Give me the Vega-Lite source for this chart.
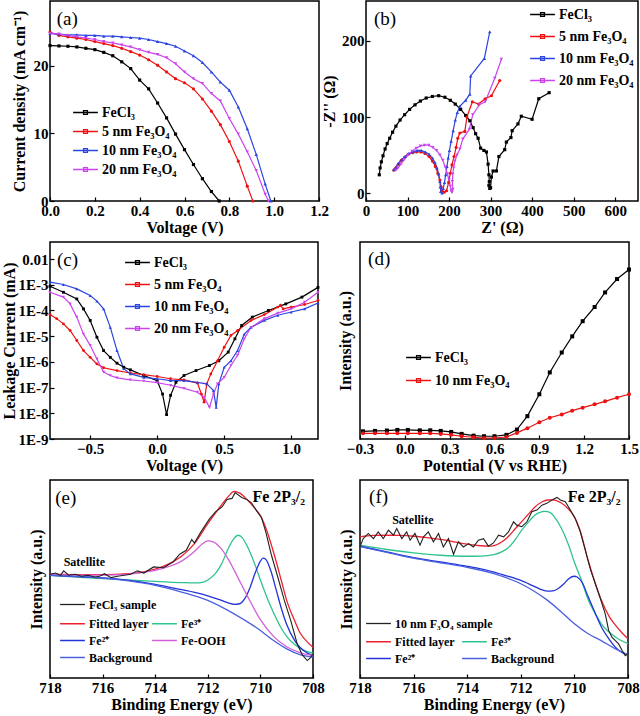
{
"$schema": "https://vega.github.io/schema/vega-lite/v6.json",
"background": "white",
"padding": {"left": 0, "top": 0, "right": 1, "bottom": 1},
"config": {
  "font": "Liberation Serif",
  "view": {"stroke": "#000", "strokeWidth": 1.5},
  "axis": {"domain": false, "grid": false, "tickSize": -4, "tickColor": "#000", "tickWidth": 1.2, "labelFont": "Liberation Serif", "labelFontSize": 15, "labelFontWeight": "bold", "labelColor": "#000", "labelPadding": 6, "titleFont": "Liberation Serif", "titleFontSize": 16, "titleFontWeight": "bold", "titleColor": "#000", "titlePadding": 1, "labelOverlap": false, "labelFlush": false},
  "legend": {"labelFont": "Liberation Serif", "labelFontWeight": "bold", "labelFontSize": 14, "labelColor": "#000", "padding": 0},
  "text": {"font": "Liberation Serif", "color": "#000"}
},
"datasets": {
"a": [
{"s":"FeCl₃","x":0,"y":23.0},{"s":"FeCl₃","x":0.04,"y":22.95},{"s":"FeCl₃","x":0.08,"y":22.9},{"s":"FeCl₃","x":0.12,"y":22.8},{"s":"FeCl₃","x":0.16,"y":22.6},{"s":"FeCl₃","x":0.2,"y":22.4},{"s":"FeCl₃","x":0.24,"y":22.0},{"s":"FeCl₃","x":0.28,"y":21.5},{"s":"FeCl₃","x":0.32,"y":20.6},{"s":"FeCl₃","x":0.36,"y":19.6},{"s":"FeCl₃","x":0.4,"y":17.9},{"s":"FeCl₃","x":0.44,"y":16.6},{"s":"FeCl₃","x":0.48,"y":14.5},{"s":"FeCl₃","x":0.52,"y":12.3},{"s":"FeCl₃","x":0.56,"y":9.9},{"s":"FeCl₃","x":0.6,"y":7.6},{"s":"FeCl₃","x":0.64,"y":5.4},{"s":"FeCl₃","x":0.68,"y":3.3},{"s":"FeCl₃","x":0.72,"y":1.4},{"s":"FeCl₃","x":0.755,"y":0},
{"s":"5 nm Fe₃O₄","x":0,"y":25.0},{"s":"5 nm Fe₃O₄","x":0.04,"y":24.5},{"s":"5 nm Fe₃O₄","x":0.08,"y":24.3},{"s":"5 nm Fe₃O₄","x":0.12,"y":24.1},{"s":"5 nm Fe₃O₄","x":0.16,"y":23.9},{"s":"5 nm Fe₃O₄","x":0.2,"y":23.6},{"s":"5 nm Fe₃O₄","x":0.24,"y":23.3},{"s":"5 nm Fe₃O₄","x":0.28,"y":23.0},{"s":"5 nm Fe₃O₄","x":0.32,"y":22.6},{"s":"5 nm Fe₃O₄","x":0.36,"y":22.1},{"s":"5 nm Fe₃O₄","x":0.4,"y":21.6},{"s":"5 nm Fe₃O₄","x":0.44,"y":20.9},{"s":"5 nm Fe₃O₄","x":0.48,"y":20.1},{"s":"5 nm Fe₃O₄","x":0.52,"y":19.1},{"s":"5 nm Fe₃O₄","x":0.56,"y":18.1},{"s":"5 nm Fe₃O₄","x":0.6,"y":17.5},{"s":"5 nm Fe₃O₄","x":0.64,"y":16.6},{"s":"5 nm Fe₃O₄","x":0.68,"y":15.1},{"s":"5 nm Fe₃O₄","x":0.72,"y":13.3},{"s":"5 nm Fe₃O₄","x":0.76,"y":11.3},{"s":"5 nm Fe₃O₄","x":0.8,"y":8.8},{"s":"5 nm Fe₃O₄","x":0.84,"y":5.9},{"s":"5 nm Fe₃O₄","x":0.88,"y":2.2},{"s":"5 nm Fe₃O₄","x":0.905,"y":0},
{"s":"10 nm Fe₃O₄","x":0,"y":24.8},{"s":"10 nm Fe₃O₄","x":0.04,"y":24.7},{"s":"10 nm Fe₃O₄","x":0.08,"y":24.6},{"s":"10 nm Fe₃O₄","x":0.12,"y":24.6},{"s":"10 nm Fe₃O₄","x":0.16,"y":24.5},{"s":"10 nm Fe₃O₄","x":0.2,"y":24.5},{"s":"10 nm Fe₃O₄","x":0.24,"y":24.4},{"s":"10 nm Fe₃O₄","x":0.28,"y":24.4},{"s":"10 nm Fe₃O₄","x":0.32,"y":24.3},{"s":"10 nm Fe₃O₄","x":0.36,"y":24.2},{"s":"10 nm Fe₃O₄","x":0.4,"y":24.1},{"s":"10 nm Fe₃O₄","x":0.44,"y":23.9},{"s":"10 nm Fe₃O₄","x":0.48,"y":23.6},{"s":"10 nm Fe₃O₄","x":0.52,"y":23.3},{"s":"10 nm Fe₃O₄","x":0.56,"y":22.9},{"s":"10 nm Fe₃O₄","x":0.6,"y":22.2},{"s":"10 nm Fe₃O₄","x":0.64,"y":21.5},{"s":"10 nm Fe₃O₄","x":0.68,"y":20.5},{"s":"10 nm Fe₃O₄","x":0.72,"y":19.1},{"s":"10 nm Fe₃O₄","x":0.76,"y":17.6},{"s":"10 nm Fe₃O₄","x":0.8,"y":16.4},{"s":"10 nm Fe₃O₄","x":0.84,"y":13.9},{"s":"10 nm Fe₃O₄","x":0.88,"y":10.7},{"s":"10 nm Fe₃O₄","x":0.92,"y":6.9},{"s":"10 nm Fe₃O₄","x":0.96,"y":2.5},{"s":"10 nm Fe₃O₄","x":0.985,"y":0},
{"s":"20 nm Fe₃O₄","x":0,"y":24.8},{"s":"20 nm Fe₃O₄","x":0.04,"y":24.7},{"s":"20 nm Fe₃O₄","x":0.08,"y":24.5},{"s":"20 nm Fe₃O₄","x":0.12,"y":24.3},{"s":"20 nm Fe₃O₄","x":0.16,"y":24.1},{"s":"20 nm Fe₃O₄","x":0.2,"y":23.9},{"s":"20 nm Fe₃O₄","x":0.24,"y":23.6},{"s":"20 nm Fe₃O₄","x":0.28,"y":23.4},{"s":"20 nm Fe₃O₄","x":0.32,"y":23.1},{"s":"20 nm Fe₃O₄","x":0.36,"y":22.8},{"s":"20 nm Fe₃O₄","x":0.4,"y":22.4},{"s":"20 nm Fe₃O₄","x":0.44,"y":22.0},{"s":"20 nm Fe₃O₄","x":0.48,"y":21.7},{"s":"20 nm Fe₃O₄","x":0.52,"y":21.2},{"s":"20 nm Fe₃O₄","x":0.56,"y":20.3},{"s":"20 nm Fe₃O₄","x":0.6,"y":19.1},{"s":"20 nm Fe₃O₄","x":0.64,"y":18.1},{"s":"20 nm Fe₃O₄","x":0.68,"y":17.4},{"s":"20 nm Fe₃O₄","x":0.72,"y":15.9},{"s":"20 nm Fe₃O₄","x":0.76,"y":14.8},{"s":"20 nm Fe₃O₄","x":0.8,"y":12.2},{"s":"20 nm Fe₃O₄","x":0.84,"y":9.9},{"s":"20 nm Fe₃O₄","x":0.88,"y":7.3},{"s":"20 nm Fe₃O₄","x":0.92,"y":4.5},{"s":"20 nm Fe₃O₄","x":0.96,"y":1.0},{"s":"20 nm Fe₃O₄","x":0.975,"y":0}
],
"b": [
{"s":"FeCl₃","x":32,"y":24},{"s":"FeCl₃","x":34,"y":33},{"s":"FeCl₃","x":37,"y":41},{"s":"FeCl₃","x":41,"y":49},{"s":"FeCl₃","x":46,"y":58},{"s":"FeCl₃","x":51,"y":65},{"s":"FeCl₃","x":57,"y":72},{"s":"FeCl₃","x":64,"y":80},{"s":"FeCl₃","x":72,"y":88},{"s":"FeCl₃","x":82,"y":96},{"s":"FeCl₃","x":93,"y":103},{"s":"FeCl₃","x":105,"y":110},{"s":"FeCl₃","x":118,"y":116},{"s":"FeCl₃","x":131,"y":121},{"s":"FeCl₃","x":145,"y":125},{"s":"FeCl₃","x":160,"y":127},{"s":"FeCl₃","x":175,"y":128},{"s":"FeCl₃","x":190,"y":126},{"s":"FeCl₃","x":203,"y":122},{"s":"FeCl₃","x":215,"y":117},{"s":"FeCl₃","x":228,"y":110},{"s":"FeCl₃","x":240,"y":102},{"s":"FeCl₃","x":250,"y":95},{"s":"FeCl₃","x":258,"y":86},{"s":"FeCl₃","x":264,"y":78},{"s":"FeCl₃","x":270,"y":72},{"s":"FeCl₃","x":276,"y":59},{"s":"FeCl₃","x":284,"y":56},{"s":"FeCl₃","x":290,"y":54},{"s":"FeCl₃","x":294,"y":38},{"s":"FeCl₃","x":296,"y":24},{"s":"FeCl₃","x":297,"y":15},{"s":"FeCl₃","x":296,"y":10},{"s":"FeCl₃","x":298,"y":6},{"s":"FeCl₃","x":300,"y":7},{"s":"FeCl₃","x":302,"y":21},{"s":"FeCl₃","x":306,"y":29},{"s":"FeCl₃","x":314,"y":29},{"s":"FeCl₃","x":320,"y":48},{"s":"FeCl₃","x":334,"y":57},{"s":"FeCl₃","x":338,"y":67},{"s":"FeCl₃","x":349,"y":73},{"s":"FeCl₃","x":352,"y":82},{"s":"FeCl₃","x":366,"y":91},{"s":"FeCl₃","x":374,"y":101},{"s":"FeCl₃","x":400,"y":97},{"s":"FeCl₃","x":416,"y":124},{"s":"FeCl₃","x":441,"y":132},
{"s":"5 nm Fe₃O₄","x":67,"y":30},{"s":"5 nm Fe₃O₄","x":72,"y":33},{"s":"5 nm Fe₃O₄","x":78,"y":38},{"s":"5 nm Fe₃O₄","x":85,"y":43},{"s":"5 nm Fe₃O₄","x":93,"y":47},{"s":"5 nm Fe₃O₄","x":102,"y":51},{"s":"5 nm Fe₃O₄","x":112,"y":53},{"s":"5 nm Fe₃O₄","x":122,"y":54},{"s":"5 nm Fe₃O₄","x":132,"y":54},{"s":"5 nm Fe₃O₄","x":142,"y":52},{"s":"5 nm Fe₃O₄","x":152,"y":48},{"s":"5 nm Fe₃O₄","x":160,"y":42},{"s":"5 nm Fe₃O₄","x":167,"y":35},{"s":"5 nm Fe₃O₄","x":173,"y":26},{"s":"5 nm Fe₃O₄","x":178,"y":17},{"s":"5 nm Fe₃O₄","x":181,"y":8},{"s":"5 nm Fe₃O₄","x":183,"y":3},{"s":"5 nm Fe₃O₄","x":188,"y":1},{"s":"5 nm Fe₃O₄","x":194,"y":3},{"s":"5 nm Fe₃O₄","x":199,"y":14},{"s":"5 nm Fe₃O₄","x":203,"y":26},{"s":"5 nm Fe₃O₄","x":207,"y":37},{"s":"5 nm Fe₃O₄","x":212,"y":48},{"s":"5 nm Fe₃O₄","x":217,"y":60},{"s":"5 nm Fe₃O₄","x":221,"y":72},{"s":"5 nm Fe₃O₄","x":226,"y":79},{"s":"5 nm Fe₃O₄","x":238,"y":81},{"s":"5 nm Fe₃O₄","x":243,"y":100},{"s":"5 nm Fe₃O₄","x":256,"y":120},{"s":"5 nm Fe₃O₄","x":271,"y":117},{"s":"5 nm Fe₃O₄","x":287,"y":124},{"s":"5 nm Fe₃O₄","x":302,"y":128},{"s":"5 nm Fe₃O₄","x":322,"y":148},
{"s":"10 nm Fe₃O₄","x":67,"y":31},{"s":"10 nm Fe₃O₄","x":72,"y":34},{"s":"10 nm Fe₃O₄","x":78,"y":39},{"s":"10 nm Fe₃O₄","x":86,"y":44},{"s":"10 nm Fe₃O₄","x":94,"y":48},{"s":"10 nm Fe₃O₄","x":103,"y":52},{"s":"10 nm Fe₃O₄","x":113,"y":54},{"s":"10 nm Fe₃O₄","x":123,"y":56},{"s":"10 nm Fe₃O₄","x":133,"y":56},{"s":"10 nm Fe₃O₄","x":143,"y":54},{"s":"10 nm Fe₃O₄","x":152,"y":51},{"s":"10 nm Fe₃O₄","x":160,"y":46},{"s":"10 nm Fe₃O₄","x":166,"y":40},{"s":"10 nm Fe₃O₄","x":171,"y":33},{"s":"10 nm Fe₃O₄","x":175,"y":25},{"s":"10 nm Fe₃O₄","x":178,"y":15},{"s":"10 nm Fe₃O₄","x":179,"y":8},{"s":"10 nm Fe₃O₄","x":180,"y":2},{"s":"10 nm Fe₃O₄","x":183,"y":0},{"s":"10 nm Fe₃O₄","x":186,"y":6},{"s":"10 nm Fe₃O₄","x":189,"y":14},{"s":"10 nm Fe₃O₄","x":192,"y":24},{"s":"10 nm Fe₃O₄","x":195,"y":35},{"s":"10 nm Fe₃O₄","x":198,"y":46},{"s":"10 nm Fe₃O₄","x":201,"y":56},{"s":"10 nm Fe₃O₄","x":205,"y":68},{"s":"10 nm Fe₃O₄","x":210,"y":82},{"s":"10 nm Fe₃O₄","x":215,"y":96},{"s":"10 nm Fe₃O₄","x":220,"y":106},{"s":"10 nm Fe₃O₄","x":226,"y":114},{"s":"10 nm Fe₃O₄","x":240,"y":122},{"s":"10 nm Fe₃O₄","x":250,"y":130},{"s":"10 nm Fe₃O₄","x":252,"y":154},{"s":"10 nm Fe₃O₄","x":285,"y":177},{"s":"10 nm Fe₃O₄","x":298,"y":212},
{"s":"20 nm Fe₃O₄","x":72,"y":30},{"s":"20 nm Fe₃O₄","x":77,"y":33},{"s":"20 nm Fe₃O₄","x":84,"y":38},{"s":"20 nm Fe₃O₄","x":92,"y":44},{"s":"20 nm Fe₃O₄","x":101,"y":50},{"s":"20 nm Fe₃O₄","x":111,"y":55},{"s":"20 nm Fe₃O₄","x":121,"y":59},{"s":"20 nm Fe₃O₄","x":131,"y":62},{"s":"20 nm Fe₃O₄","x":141,"y":63},{"s":"20 nm Fe₃O₄","x":151,"y":63},{"s":"20 nm Fe₃O₄","x":161,"y":60},{"s":"20 nm Fe₃O₄","x":170,"y":56},{"s":"20 nm Fe₃O₄","x":178,"y":50},{"s":"20 nm Fe₃O₄","x":185,"y":43},{"s":"20 nm Fe₃O₄","x":191,"y":34},{"s":"20 nm Fe₃O₄","x":196,"y":25},{"s":"20 nm Fe₃O₄","x":200,"y":17},{"s":"20 nm Fe₃O₄","x":203,"y":9},{"s":"20 nm Fe₃O₄","x":205,"y":3},{"s":"20 nm Fe₃O₄","x":207,"y":1},{"s":"20 nm Fe₃O₄","x":209,"y":5},{"s":"20 nm Fe₃O₄","x":208,"y":15},{"s":"20 nm Fe₃O₄","x":209,"y":25},{"s":"20 nm Fe₃O₄","x":211,"y":33},{"s":"20 nm Fe₃O₄","x":214,"y":42},{"s":"20 nm Fe₃O₄","x":219,"y":50},{"s":"20 nm Fe₃O₄","x":226,"y":58},{"s":"20 nm Fe₃O₄","x":233,"y":71},{"s":"20 nm Fe₃O₄","x":249,"y":84},{"s":"20 nm Fe₃O₄","x":257,"y":103},{"s":"20 nm Fe₃O₄","x":273,"y":116},{"s":"20 nm Fe₃O₄","x":287,"y":120},{"s":"20 nm Fe₃O₄","x":310,"y":151},{"s":"20 nm Fe₃O₄","x":326,"y":176}
],
"c": [
{"s":"FeCl₃","x":-0.8,"y":8.7e-4},{"s":"FeCl₃","x":-0.7,"y":5.1e-4},{"s":"FeCl₃","x":-0.6,"y":2.8e-4},{"s":"FeCl₃","x":-0.55,"y":1.15e-4},{"s":"FeCl₃","x":-0.5,"y":4.1e-5},{"s":"FeCl₃","x":-0.45,"y":9.1e-6},{"s":"FeCl₃","x":-0.4,"y":2.75e-6},{"s":"FeCl₃","x":-0.35,"y":1.5e-6},{"s":"FeCl₃","x":-0.3,"y":8.9e-7},{"s":"FeCl₃","x":-0.25,"y":6.2e-7},{"s":"FeCl₃","x":-0.2,"y":4.9e-7},{"s":"FeCl₃","x":-0.1,"y":2.95e-7},{"s":"FeCl₃","x":0.0,"y":1.86e-7},{"s":"FeCl₃","x":0.04,"y":5.6e-8},{"s":"FeCl₃","x":0.07,"y":8.9e-9},{"s":"FeCl₃","x":0.1,"y":5e-8},{"s":"FeCl₃","x":0.14,"y":1.6e-7},{"s":"FeCl₃","x":0.2,"y":2.95e-7},{"s":"FeCl₃","x":0.29,"y":4.6e-7},{"s":"FeCl₃","x":0.39,"y":7.2e-7},{"s":"FeCl₃","x":0.46,"y":1.1e-6},{"s":"FeCl₃","x":0.53,"y":2.4e-6},{"s":"FeCl₃","x":0.58,"y":7.9e-6},{"s":"FeCl₃","x":0.63,"y":2.6e-5},{"s":"FeCl₃","x":0.71,"y":5.5e-5},{"s":"FeCl₃","x":0.83,"y":1e-4},{"s":"FeCl₃","x":0.96,"y":1.8e-4},{"s":"FeCl₃","x":1.08,"y":3.3e-4},{"s":"FeCl₃","x":1.2,"y":7.9e-4},
{"s":"5 nm Fe₃O₄","x":-0.8,"y":6.9e-5},{"s":"5 nm Fe₃O₄","x":-0.75,"y":4.8e-5},{"s":"5 nm Fe₃O₄","x":-0.7,"y":3.0e-5},{"s":"5 nm Fe₃O₄","x":-0.65,"y":1.66e-5},{"s":"5 nm Fe₃O₄","x":-0.6,"y":6.8e-6},{"s":"5 nm Fe₃O₄","x":-0.55,"y":2.75e-6},{"s":"5 nm Fe₃O₄","x":-0.5,"y":1.5e-6},{"s":"5 nm Fe₃O₄","x":-0.45,"y":8.3e-7},{"s":"5 nm Fe₃O₄","x":-0.4,"y":5.9e-7},{"s":"5 nm Fe₃O₄","x":-0.3,"y":4.6e-7},{"s":"5 nm Fe₃O₄","x":-0.2,"y":3.7e-7},{"s":"5 nm Fe₃O₄","x":-0.1,"y":3.2e-7},{"s":"5 nm Fe₃O₄","x":0.0,"y":2.7e-7},{"s":"5 nm Fe₃O₄","x":0.1,"y":2.2e-7},{"s":"5 nm Fe₃O₄","x":0.2,"y":2.0e-7},{"s":"5 nm Fe₃O₄","x":0.3,"y":1.5e-7},{"s":"5 nm Fe₃O₄","x":0.33,"y":5.6e-8},{"s":"5 nm Fe₃O₄","x":0.35,"y":2.7e-8},{"s":"5 nm Fe₃O₄","x":0.37,"y":1.4e-7},{"s":"5 nm Fe₃O₄","x":0.4,"y":3.4e-7},{"s":"5 nm Fe₃O₄","x":0.45,"y":1.1e-6},{"s":"5 nm Fe₃O₄","x":0.5,"y":3.7e-6},{"s":"5 nm Fe₃O₄","x":0.55,"y":1.07e-5},{"s":"5 nm Fe₃O₄","x":0.6,"y":1.66e-5},{"s":"5 nm Fe₃O₄","x":0.7,"y":4.1e-5},{"s":"5 nm Fe₃O₄","x":0.8,"y":6.9e-5},{"s":"5 nm Fe₃O₄","x":0.9,"y":1.35e-4},{"s":"5 nm Fe₃O₄","x":0.92,"y":1.6e-4},{"s":"5 nm Fe₃O₄","x":0.94,"y":1.15e-4},{"s":"5 nm Fe₃O₄","x":1.0,"y":1.35e-4},{"s":"5 nm Fe₃O₄","x":1.1,"y":1.7e-4},{"s":"5 nm Fe₃O₄","x":1.2,"y":2.45e-4},
{"s":"10 nm Fe₃O₄","x":-0.8,"y":1.26e-3},{"s":"10 nm Fe₃O₄","x":-0.7,"y":1.02e-3},{"s":"10 nm Fe₃O₄","x":-0.6,"y":6.9e-4},{"s":"10 nm Fe₃O₄","x":-0.5,"y":3.8e-4},{"s":"10 nm Fe₃O₄","x":-0.45,"y":2.3e-4},{"s":"10 nm Fe₃O₄","x":-0.4,"y":1.15e-4},{"s":"10 nm Fe₃O₄","x":-0.35,"y":2.2e-5},{"s":"10 nm Fe₃O₄","x":-0.3,"y":2.75e-6},{"s":"10 nm Fe₃O₄","x":-0.25,"y":5.4e-7},{"s":"10 nm Fe₃O₄","x":-0.2,"y":3.4e-7},{"s":"10 nm Fe₃O₄","x":-0.1,"y":2.5e-7},{"s":"10 nm Fe₃O₄","x":0.0,"y":2.2e-7},{"s":"10 nm Fe₃O₄","x":0.1,"y":1.86e-7},{"s":"10 nm Fe₃O₄","x":0.2,"y":1.86e-7},{"s":"10 nm Fe₃O₄","x":0.3,"y":1.6e-7},{"s":"10 nm Fe₃O₄","x":0.37,"y":1.4e-7},{"s":"10 nm Fe₃O₄","x":0.42,"y":7.6e-8},{"s":"10 nm Fe₃O₄","x":0.44,"y":1.7e-8},{"s":"10 nm Fe₃O₄","x":0.46,"y":1.4e-7},{"s":"10 nm Fe₃O₄","x":0.5,"y":6.2e-7},{"s":"10 nm Fe₃O₄","x":0.55,"y":1.1e-6},{"s":"10 nm Fe₃O₄","x":0.6,"y":2.75e-6},{"s":"10 nm Fe₃O₄","x":0.65,"y":1.2e-5},{"s":"10 nm Fe₃O₄","x":0.7,"y":2.2e-5},{"s":"10 nm Fe₃O₄","x":0.8,"y":4.1e-5},{"s":"10 nm Fe₃O₄","x":0.9,"y":6.5e-5},{"s":"10 nm Fe₃O₄","x":1.0,"y":8.7e-5},{"s":"10 nm Fe₃O₄","x":1.1,"y":1.15e-4},{"s":"10 nm Fe₃O₄","x":1.2,"y":1.95e-4},
{"s":"20 nm Fe₃O₄","x":-0.8,"y":5.1e-4},{"s":"20 nm Fe₃O₄","x":-0.7,"y":3.3e-4},{"s":"20 nm Fe₃O₄","x":-0.65,"y":1.8e-4},{"s":"20 nm Fe₃O₄","x":-0.6,"y":5.5e-5},{"s":"20 nm Fe₃O₄","x":-0.55,"y":1.2e-5},{"s":"20 nm Fe₃O₄","x":-0.5,"y":4.4e-6},{"s":"20 nm Fe₃O₄","x":-0.45,"y":1.3e-6},{"s":"20 nm Fe₃O₄","x":-0.4,"y":4e-7},{"s":"20 nm Fe₃O₄","x":-0.35,"y":2.95e-7},{"s":"20 nm Fe₃O₄","x":-0.3,"y":2.4e-7},{"s":"20 nm Fe₃O₄","x":-0.2,"y":2e-7},{"s":"20 nm Fe₃O₄","x":-0.1,"y":1.8e-7},{"s":"20 nm Fe₃O₄","x":0.0,"y":1.55e-7},{"s":"20 nm Fe₃O₄","x":0.1,"y":1.23e-7},{"s":"20 nm Fe₃O₄","x":0.2,"y":9.3e-8},{"s":"20 nm Fe₃O₄","x":0.3,"y":6.6e-8},{"s":"20 nm Fe₃O₄","x":0.35,"y":4.2e-8},{"s":"20 nm Fe₃O₄","x":0.39,"y":1.7e-8},{"s":"20 nm Fe₃O₄","x":0.42,"y":5.6e-8},{"s":"20 nm Fe₃O₄","x":0.45,"y":1.4e-7},{"s":"20 nm Fe₃O₄","x":0.5,"y":2.5e-7},{"s":"20 nm Fe₃O₄","x":0.55,"y":7.2e-7},{"s":"20 nm Fe₃O₄","x":0.6,"y":1.8e-6},{"s":"20 nm Fe₃O₄","x":0.65,"y":7.9e-6},{"s":"20 nm Fe₃O₄","x":0.7,"y":2.2e-5},{"s":"20 nm Fe₃O₄","x":0.8,"y":4.8e-5},{"s":"20 nm Fe₃O₄","x":0.9,"y":7.9e-5},{"s":"20 nm Fe₃O₄","x":1.0,"y":1.15e-4},{"s":"20 nm Fe₃O₄","x":1.1,"y":2.1e-4},{"s":"20 nm Fe₃O₄","x":1.2,"y":5.1e-4}
],
"d": [
{"s":"FeCl₃","x":-0.28,"y":3.9},{"s":"FeCl₃","x":-0.2,"y":4.1},{"s":"FeCl₃","x":-0.12,"y":4.3},{"s":"FeCl₃","x":-0.05,"y":4.6},{"s":"FeCl₃","x":0.02,"y":4.6},{"s":"FeCl₃","x":0.1,"y":4.4},{"s":"FeCl₃","x":0.17,"y":4.4},{"s":"FeCl₃","x":0.24,"y":4.1},{"s":"FeCl₃","x":0.31,"y":3.6},{"s":"FeCl₃","x":0.38,"y":2.6},{"s":"FeCl₃","x":0.46,"y":1.7},{"s":"FeCl₃","x":0.53,"y":1.4},{"s":"FeCl₃","x":0.6,"y":1.4},{"s":"FeCl₃","x":0.68,"y":2.1},{"s":"FeCl₃","x":0.75,"y":4.8},{"s":"FeCl₃","x":0.82,"y":11.6},{"s":"FeCl₃","x":0.9,"y":22.7},{"s":"FeCl₃","x":0.97,"y":33.8},{"s":"FeCl₃","x":1.05,"y":43.9},{"s":"FeCl₃","x":1.12,"y":52.1},{"s":"FeCl₃","x":1.19,"y":59.8},{"s":"FeCl₃","x":1.27,"y":67.0},{"s":"FeCl₃","x":1.34,"y":74.4},{"s":"FeCl₃","x":1.42,"y":81.2},{"s":"FeCl₃","x":1.5,"y":86.0},
{"s":"10 nm Fe₃O₄","x":-0.28,"y":2.9},{"s":"10 nm Fe₃O₄","x":-0.2,"y":2.9},{"s":"10 nm Fe₃O₄","x":-0.12,"y":2.9},{"s":"10 nm Fe₃O₄","x":-0.05,"y":2.9},{"s":"10 nm Fe₃O₄","x":0.02,"y":2.9},{"s":"10 nm Fe₃O₄","x":0.1,"y":2.9},{"s":"10 nm Fe₃O₄","x":0.17,"y":2.9},{"s":"10 nm Fe₃O₄","x":0.24,"y":2.6},{"s":"10 nm Fe₃O₄","x":0.31,"y":2.1},{"s":"10 nm Fe₃O₄","x":0.38,"y":1.4},{"s":"10 nm Fe₃O₄","x":0.46,"y":0.9},{"s":"10 nm Fe₃O₄","x":0.53,"y":0.5},{"s":"10 nm Fe₃O₄","x":0.6,"y":0.5},{"s":"10 nm Fe₃O₄","x":0.68,"y":1.0},{"s":"10 nm Fe₃O₄","x":0.75,"y":3.1},{"s":"10 nm Fe₃O₄","x":0.82,"y":5.5},{"s":"10 nm Fe₃O₄","x":0.9,"y":8.5},{"s":"10 nm Fe₃O₄","x":0.97,"y":10.8},{"s":"10 nm Fe₃O₄","x":1.05,"y":12.5},{"s":"10 nm Fe₃O₄","x":1.12,"y":14.4},{"s":"10 nm Fe₃O₄","x":1.19,"y":15.9},{"s":"10 nm Fe₃O₄","x":1.27,"y":17.6},{"s":"10 nm Fe₃O₄","x":1.34,"y":19.1},{"s":"10 nm Fe₃O₄","x":1.42,"y":21.0},{"s":"10 nm Fe₃O₄","x":1.5,"y":22.7}
],
"es": [
{"s":"FeCl₃ sample","x":718.0,"y":52.4},{"s":"FeCl₃ sample","x":717.79,"y":53.0},{"s":"FeCl₃ sample","x":717.6,"y":51.9},{"s":"FeCl₃ sample","x":717.48,"y":54.1},{"s":"FeCl₃ sample","x":717.29,"y":51.9},{"s":"FeCl₃ sample","x":717.04,"y":52.4},{"s":"FeCl₃ sample","x":716.8,"y":51.4},{"s":"FeCl₃ sample","x":716.55,"y":51.9},{"s":"FeCl₃ sample","x":716.3,"y":51.0},{"s":"FeCl₃ sample","x":716.11,"y":51.4},{"s":"FeCl₃ sample","x":715.93,"y":52.7},{"s":"FeCl₃ sample","x":715.68,"y":50.7},{"s":"FeCl₃ sample","x":715.43,"y":51.4},{"s":"FeCl₃ sample","x":715.18,"y":51.9},{"s":"FeCl₃ sample","x":714.93,"y":52.4},{"s":"FeCl₃ sample","x":714.68,"y":54.1},{"s":"FeCl₃ sample","x":714.43,"y":53.0},{"s":"FeCl₃ sample","x":714.06,"y":56.1},{"s":"FeCl₃ sample","x":713.69,"y":55.7},{"s":"FeCl₃ sample","x":713.32,"y":58.6},{"s":"FeCl₃ sample","x":713.07,"y":62.5},{"s":"FeCl₃ sample","x":712.82,"y":64.5},{"s":"FeCl₃ sample","x":712.61,"y":69.9},{"s":"FeCl₃ sample","x":712.51,"y":68.2},{"s":"FeCl₃ sample","x":712.26,"y":73.8},{"s":"FeCl₃ sample","x":711.95,"y":80.1},{"s":"FeCl₃ sample","x":711.7,"y":84.0},{"s":"FeCl₃ sample","x":711.45,"y":86.5},{"s":"FeCl₃ sample","x":711.27,"y":90.2},{"s":"FeCl₃ sample","x":711.08,"y":90.7},{"s":"FeCl₃ sample","x":710.96,"y":93.6},{"s":"FeCl₃ sample","x":710.71,"y":91.2},{"s":"FeCl₃ sample","x":710.52,"y":90.2},{"s":"FeCl₃ sample","x":710.34,"y":88.5},{"s":"FeCl₃ sample","x":710.15,"y":84.5},{"s":"FeCl₃ sample","x":709.96,"y":81.1},{"s":"FeCl₃ sample","x":709.78,"y":73.0},{"s":"FeCl₃ sample","x":709.59,"y":62.5},{"s":"FeCl₃ sample","x":709.34,"y":51.0},{"s":"FeCl₃ sample","x":709.09,"y":39.2},{"s":"FeCl₃ sample","x":708.84,"y":28.7},{"s":"FeCl₃ sample","x":708.6,"y":17.2},{"s":"FeCl₃ sample","x":708.41,"y":11.8},{"s":"FeCl₃ sample","x":708.22,"y":8.8},{"s":"FeCl₃ sample","x":708.1,"y":10.1},{"s":"FeCl₃ sample","x":708.0,"y":12.2}
],
"ef": [
{"s":"Fitted layer","x":718,"y":52.4},{"s":"Fitted layer","x":717,"y":52.2},{"s":"Fitted layer","x":716,"y":52.2},{"s":"Fitted layer","x":715,"y":52.7},{"s":"Fitted layer","x":714.5,"y":53.5},{"s":"Fitted layer","x":714,"y":55.0},{"s":"Fitted layer","x":713.5,"y":57.5},{"s":"Fitted layer","x":713,"y":61.5},{"s":"Fitted layer","x":712.5,"y":68.0},{"s":"Fitted layer","x":712,"y":78.0},{"s":"Fitted layer","x":711.5,"y":87.0},{"s":"Fitted layer","x":711.2,"y":92.0},{"s":"Fitted layer","x":711,"y":94.3},{"s":"Fitted layer","x":710.8,"y":93.5},{"s":"Fitted layer","x":710.5,"y":90.0},{"s":"Fitted layer","x":710.2,"y":85.5},{"s":"Fitted layer","x":710,"y":82.0},{"s":"Fitted layer","x":709.8,"y":76.0},{"s":"Fitted layer","x":709.5,"y":63.5},{"s":"Fitted layer","x":709.2,"y":49.0},{"s":"Fitted layer","x":709,"y":39.2},{"s":"Fitted layer","x":708.7,"y":29.0},{"s":"Fitted layer","x":708.5,"y":23.0},{"s":"Fitted layer","x":708.2,"y":18.0},{"s":"Fitted layer","x":708,"y":15.5},
{"s":"Fe³⁺","x":718,"y":51.9},{"s":"Fe³⁺","x":717,"y":51.0},{"s":"Fe³⁺","x":716,"y":50.2},{"s":"Fe³⁺","x":715,"y":49.5},{"s":"Fe³⁺","x":714,"y":48.8},{"s":"Fe³⁺","x":713,"y":48.2},{"s":"Fe³⁺","x":712.5,"y":48.0},{"s":"Fe³⁺","x":712.2,"y":48.3},{"s":"Fe³⁺","x":712,"y":49.5},{"s":"Fe³⁺","x":711.7,"y":53.0},{"s":"Fe³⁺","x":711.5,"y":57.0},{"s":"Fe³⁺","x":711.2,"y":66.0},{"s":"Fe³⁺","x":711,"y":70.5},{"s":"Fe³⁺","x":710.85,"y":72.1},{"s":"Fe³⁺","x":710.7,"y":71.0},{"s":"Fe³⁺","x":710.5,"y":66.5},{"s":"Fe³⁺","x":710.2,"y":57.0},{"s":"Fe³⁺","x":710,"y":49.5},{"s":"Fe³⁺","x":709.7,"y":39.0},{"s":"Fe³⁺","x":709.5,"y":33.0},{"s":"Fe³⁺","x":709.2,"y":25.0},{"s":"Fe³⁺","x":709,"y":21.0},{"s":"Fe³⁺","x":708.5,"y":15.0},{"s":"Fe³⁺","x":708,"y":12.5},
{"s":"Fe²⁺","x":718,"y":51.9},{"s":"Fe²⁺","x":717,"y":51.2},{"s":"Fe²⁺","x":716,"y":50.6},{"s":"Fe²⁺","x":715,"y":49.3},{"s":"Fe²⁺","x":714,"y":47.3},{"s":"Fe²⁺","x":713,"y":44.6},{"s":"Fe²⁺","x":712.5,"y":43.2},{"s":"Fe²⁺","x":712,"y":41.5},{"s":"Fe²⁺","x":711.5,"y":39.3},{"s":"Fe²⁺","x":711.2,"y":37.8},{"s":"Fe²⁺","x":711,"y":37.2},{"s":"Fe²⁺","x":710.8,"y":37.5},{"s":"Fe²⁺","x":710.6,"y":40.0},{"s":"Fe²⁺","x":710.4,"y":45.5},{"s":"Fe²⁺","x":710.2,"y":53.0},{"s":"Fe²⁺","x":710,"y":59.0},{"s":"Fe²⁺","x":709.9,"y":60.5},{"s":"Fe²⁺","x":709.8,"y":60.0},{"s":"Fe²⁺","x":709.6,"y":54.0},{"s":"Fe²⁺","x":709.4,"y":44.5},{"s":"Fe²⁺","x":709.2,"y":35.0},{"s":"Fe²⁺","x":709,"y":27.0},{"s":"Fe²⁺","x":708.7,"y":19.0},{"s":"Fe²⁺","x":708.5,"y":15.5},{"s":"Fe²⁺","x":708.2,"y":12.5},{"s":"Fe²⁺","x":708,"y":11.3},
{"s":"Fe-OOH","x":718,"y":52.2},{"s":"Fe-OOH","x":717,"y":52.0},{"s":"Fe-OOH","x":716,"y":52.0},{"s":"Fe-OOH","x":715,"y":52.5},{"s":"Fe-OOH","x":714.5,"y":53.2},{"s":"Fe-OOH","x":714,"y":54.3},{"s":"Fe-OOH","x":713.5,"y":56.2},{"s":"Fe-OOH","x":713,"y":59.0},{"s":"Fe-OOH","x":712.5,"y":64.0},{"s":"Fe-OOH","x":712.2,"y":67.8},{"s":"Fe-OOH","x":712,"y":69.3},{"s":"Fe-OOH","x":711.8,"y":68.8},{"s":"Fe-OOH","x":711.5,"y":65.5},{"s":"Fe-OOH","x":711.2,"y":59.5},{"s":"Fe-OOH","x":711,"y":54.5},{"s":"Fe-OOH","x":710.5,"y":41.5},{"s":"Fe-OOH","x":710,"y":29.5},{"s":"Fe-OOH","x":709.5,"y":21.0},{"s":"Fe-OOH","x":709,"y":15.8},{"s":"Fe-OOH","x":708.5,"y":12.8},{"s":"Fe-OOH","x":708,"y":11.3},
{"s":"Background","x":718,"y":51.9},{"s":"Background","x":717,"y":51.3},{"s":"Background","x":716,"y":50.5},{"s":"Background","x":715,"y":49.0},{"s":"Background","x":714,"y":46.8},{"s":"Background","x":713,"y":43.4},{"s":"Background","x":712,"y":39.2},{"s":"Background","x":711,"y":32.4},{"s":"Background","x":710,"y":24.0},{"s":"Background","x":709.5,"y":18.9},{"s":"Background","x":709,"y":14.7},{"s":"Background","x":708.5,"y":11.8},{"s":"Background","x":708,"y":10.5}
],
"fs": [
{"s":"10 nm F₃O₄ sample","x":718.0,"y":66.2},{"s":"10 nm F₃O₄ sample","x":717.88,"y":70.4},{"s":"10 nm F₃O₄ sample","x":717.69,"y":73.0},{"s":"10 nm F₃O₄ sample","x":717.5,"y":70.4},{"s":"10 nm F₃O₄ sample","x":717.32,"y":73.8},{"s":"10 nm F₃O₄ sample","x":717.13,"y":70.4},{"s":"10 nm F₃O₄ sample","x":716.94,"y":74.7},{"s":"10 nm F₃O₄ sample","x":716.75,"y":72.1},{"s":"10 nm F₃O₄ sample","x":716.63,"y":75.5},{"s":"10 nm F₃O₄ sample","x":716.44,"y":70.4},{"s":"10 nm F₃O₄ sample","x":716.26,"y":73.8},{"s":"10 nm F₃O₄ sample","x":716.13,"y":69.6},{"s":"10 nm F₃O₄ sample","x":715.95,"y":73.0},{"s":"10 nm F₃O₄ sample","x":715.76,"y":67.1},{"s":"10 nm F₃O₄ sample","x":715.63,"y":71.3},{"s":"10 nm F₃O₄ sample","x":715.45,"y":73.8},{"s":"10 nm F₃O₄ sample","x":715.26,"y":68.8},{"s":"10 nm F₃O₄ sample","x":715.07,"y":73.0},{"s":"10 nm F₃O₄ sample","x":714.89,"y":66.2},{"s":"10 nm F₃O₄ sample","x":714.7,"y":70.4},{"s":"10 nm F₃O₄ sample","x":714.51,"y":62.5},{"s":"10 nm F₃O₄ sample","x":714.33,"y":68.8},{"s":"10 nm F₃O₄ sample","x":714.14,"y":66.2},{"s":"10 nm F₃O₄ sample","x":713.95,"y":67.9},{"s":"10 nm F₃O₄ sample","x":713.77,"y":66.2},{"s":"10 nm F₃O₄ sample","x":713.58,"y":69.6},{"s":"10 nm F₃O₄ sample","x":713.39,"y":70.4},{"s":"10 nm F₃O₄ sample","x":713.21,"y":66.6},{"s":"10 nm F₃O₄ sample","x":713.02,"y":68.2},{"s":"10 nm F₃O₄ sample","x":712.83,"y":72.1},{"s":"10 nm F₃O₄ sample","x":712.64,"y":71.3},{"s":"10 nm F₃O₄ sample","x":712.46,"y":73.8},{"s":"10 nm F₃O₄ sample","x":712.27,"y":78.9},{"s":"10 nm F₃O₄ sample","x":712.15,"y":77.2},{"s":"10 nm F₃O₄ sample","x":711.96,"y":76.4},{"s":"10 nm F₃O₄ sample","x":711.77,"y":78.9},{"s":"10 nm F₃O₄ sample","x":711.59,"y":84.0},{"s":"10 nm F₃O₄ sample","x":711.4,"y":84.8},{"s":"10 nm F₃O₄ sample","x":711.21,"y":87.3},{"s":"10 nm F₃O₄ sample","x":711.03,"y":88.2},{"s":"10 nm F₃O₄ sample","x":710.84,"y":89.9},{"s":"10 nm F₃O₄ sample","x":710.65,"y":91.2},{"s":"10 nm F₃O₄ sample","x":710.52,"y":89.9},{"s":"10 nm F₃O₄ sample","x":710.34,"y":89.0},{"s":"10 nm F₃O₄ sample","x":710.15,"y":84.8},{"s":"10 nm F₃O₄ sample","x":709.97,"y":80.6},{"s":"10 nm F₃O₄ sample","x":709.78,"y":73.8},{"s":"10 nm F₃O₄ sample","x":709.59,"y":64.5},{"s":"10 nm F₃O₄ sample","x":709.41,"y":55.2},{"s":"10 nm F₃O₄ sample","x":709.22,"y":47.6},{"s":"10 nm F₃O₄ sample","x":709.03,"y":40.0},{"s":"10 nm F₃O₄ sample","x":708.85,"y":32.4},{"s":"10 nm F₃O₄ sample","x":708.72,"y":24.0},{"s":"10 nm F₃O₄ sample","x":708.6,"y":20.6},{"s":"10 nm F₃O₄ sample","x":708.47,"y":18.9},{"s":"10 nm F₃O₄ sample","x":708.35,"y":17.2},{"s":"10 nm F₃O₄ sample","x":708.22,"y":13.9},{"s":"10 nm F₃O₄ sample","x":708.1,"y":11.3},{"s":"10 nm F₃O₄ sample","x":708.0,"y":12.2}
],
"ff": [
{"s":"Fitted layer","x":718,"y":71.3},{"s":"Fitted layer","x":717.5,"y":72.0},{"s":"Fitted layer","x":717,"y":72.1},{"s":"Fitted layer","x":716.5,"y":72.0},{"s":"Fitted layer","x":716,"y":71.6},{"s":"Fitted layer","x":715.5,"y":70.9},{"s":"Fitted layer","x":715,"y":70.0},{"s":"Fitted layer","x":714.5,"y":68.8},{"s":"Fitted layer","x":714,"y":67.6},{"s":"Fitted layer","x":713.5,"y":66.8},{"s":"Fitted layer","x":713.2,"y":66.6},{"s":"Fitted layer","x":713,"y":66.9},{"s":"Fitted layer","x":712.7,"y":68.8},{"s":"Fitted layer","x":712.5,"y":71.0},{"s":"Fitted layer","x":712.2,"y":75.5},{"s":"Fitted layer","x":712,"y":78.5},{"s":"Fitted layer","x":711.7,"y":83.0},{"s":"Fitted layer","x":711.5,"y":86.0},{"s":"Fitted layer","x":711.2,"y":89.0},{"s":"Fitted layer","x":711,"y":89.9},{"s":"Fitted layer","x":710.8,"y":90.0},{"s":"Fitted layer","x":710.5,"y":88.5},{"s":"Fitted layer","x":710.2,"y":85.0},{"s":"Fitted layer","x":710,"y":81.4},{"s":"Fitted layer","x":709.8,"y":75.0},{"s":"Fitted layer","x":709.5,"y":60.0},{"s":"Fitted layer","x":709.2,"y":47.0},{"s":"Fitted layer","x":709,"y":39.5},{"s":"Fitted layer","x":708.7,"y":31.0},{"s":"Fitted layer","x":708.5,"y":27.2},{"s":"Fitted layer","x":708.2,"y":22.5},{"s":"Fitted layer","x":708,"y":19.8},
{"s":"Fe³⁺","x":718,"y":67.1},{"s":"Fe³⁺","x":717,"y":64.9},{"s":"Fe³⁺","x":716,"y":63.2},{"s":"Fe³⁺","x":715,"y":62.0},{"s":"Fe³⁺","x":714,"y":61.5},{"s":"Fe³⁺","x":713.5,"y":61.6},{"s":"Fe³⁺","x":713,"y":62.3},{"s":"Fe³⁺","x":712.7,"y":63.8},{"s":"Fe³⁺","x":712.5,"y":65.4},{"s":"Fe³⁺","x":712.2,"y":70.0},{"s":"Fe³⁺","x":712,"y":74.0},{"s":"Fe³⁺","x":711.7,"y":79.0},{"s":"Fe³⁺","x":711.5,"y":82.0},{"s":"Fe³⁺","x":711.2,"y":84.0},{"s":"Fe³⁺","x":711.1,"y":84.2},{"s":"Fe³⁺","x":710.9,"y":83.5},{"s":"Fe³⁺","x":710.7,"y":80.5},{"s":"Fe³⁺","x":710.5,"y":76.0},{"s":"Fe³⁺","x":710.2,"y":66.5},{"s":"Fe³⁺","x":710,"y":58.5},{"s":"Fe³⁺","x":709.7,"y":48.0},{"s":"Fe³⁺","x":709.5,"y":40.0},{"s":"Fe³⁺","x":709.2,"y":32.0},{"s":"Fe³⁺","x":709,"y":27.5},{"s":"Fe³⁺","x":708.5,"y":21.0},{"s":"Fe³⁺","x":708,"y":17.4},
{"s":"Fe²⁺","x":718,"y":66.6},{"s":"Fe²⁺","x":717,"y":63.7},{"s":"Fe²⁺","x":716,"y":60.8},{"s":"Fe²⁺","x":715,"y":58.6},{"s":"Fe²⁺","x":714,"y":56.4},{"s":"Fe²⁺","x":713,"y":53.5},{"s":"Fe²⁺","x":712.5,"y":51.5},{"s":"Fe²⁺","x":712,"y":49.3},{"s":"Fe²⁺","x":711.5,"y":46.3},{"s":"Fe²⁺","x":711.2,"y":44.5},{"s":"Fe²⁺","x":711,"y":43.9},{"s":"Fe²⁺","x":710.8,"y":44.0},{"s":"Fe²⁺","x":710.6,"y":45.2},{"s":"Fe²⁺","x":710.4,"y":47.5},{"s":"Fe²⁺","x":710.2,"y":50.3},{"s":"Fe²⁺","x":710,"y":51.4},{"s":"Fe²⁺","x":709.9,"y":51.0},{"s":"Fe²⁺","x":709.7,"y":48.0},{"s":"Fe²⁺","x":709.5,"y":41.5},{"s":"Fe²⁺","x":709.2,"y":32.0},{"s":"Fe²⁺","x":709,"y":26.0},{"s":"Fe²⁺","x":708.7,"y":19.5},{"s":"Fe²⁺","x":708.5,"y":16.0},{"s":"Fe²⁺","x":708.2,"y":12.7},{"s":"Fe²⁺","x":708,"y":11.8},
{"s":"Background","x":718,"y":66.4},{"s":"Background","x":717,"y":63.5},{"s":"Background","x":716,"y":60.5},{"s":"Background","x":715,"y":58.2},{"s":"Background","x":714,"y":55.9},{"s":"Background","x":713,"y":52.7},{"s":"Background","x":712,"y":47.6},{"s":"Background","x":711.5,"y":43.8},{"s":"Background","x":711,"y":39.2},{"s":"Background","x":710.5,"y":33.5},{"s":"Background","x":710,"y":27.4},{"s":"Background","x":709.5,"y":22.5},{"s":"Background","x":709,"y":18.9},{"s":"Background","x":708.5,"y":15.0},{"s":"Background","x":708,"y":11.8}
]
},
"spacing": 5,
"resolve": {"scale": {"color": "independent", "stroke": "independent"}, "legend": {"color": "independent", "stroke": "independent"}},
"vconcat": [
{
"hconcat": [
{
"width": 269, "height": 200,
"layer": [
{"data": {"name": "a"}, "mark": {"type": "line", "strokeWidth": 1.2},
 "encoding": {
  "x": {"field": "x", "type": "quantitative", "scale": {"domain": [0, 1.2], "nice": false, "zero": false}, "axis": {"title": "Voltage (V)", "values": [0, 0.1, 0.2, 0.3, 0.4, 0.5, 0.6, 0.7, 0.8, 0.9, 1.0, 1.1, 1.2], "labelExpr": "round(datum.value*10) % 2 == 0 ? format(datum.value, '.1f') : ''"}},
  "y": {"field": "y", "type": "quantitative", "scale": {"domain": [0, 29.6], "nice": false}, "axis": {"title": "Current density (mA cm⁻¹)", "values": [0, 2.5, 5, 7.5, 10, 12.5, 15, 17.5, 20, 22.5, 25, 27.5], "labelExpr": "datum.value % 5 == 0 ? format(datum.value, 'd') : ''", "titlePadding": 6}},
  "color": {"field": "s", "type": "nominal", "scale": {"domain": ["FeCl₃", "5 nm Fe₃O₄", "10 nm Fe₃O₄", "20 nm Fe₃O₄"], "range": ["#000000", "#ee1111", "#2a45e0", "#cc44ee"]},
   "legend": {"title": null, "orient": "none", "legendX": 27, "legendY": 103, "symbolType": "M-1.6,0H1.6M-0.25,-0.25H0.25V0.25H-0.25Z", "symbolSize": 240, "symbolStrokeWidth": 1.3, "labelOffset": 8, "rowPadding": 3}}
 }},
{"data": {"name": "a"}, "transform": [{"filter": "datum.s === 'FeCl₃'"}], "mark": {"type": "point", "shape": "square", "filled": true, "size": 10, "color": "#000000", "opacity": 1}, "encoding": {"x": {"field": "x", "type": "quantitative"}, "y": {"field": "y", "type": "quantitative"}}},
{"data": {"name": "a"}, "transform": [{"filter": "datum.s === '5 nm Fe₃O₄'"}], "mark": {"type": "point", "shape": "circle", "filled": true, "size": 10, "color": "#ee1111", "opacity": 1}, "encoding": {"x": {"field": "x", "type": "quantitative"}, "y": {"field": "y", "type": "quantitative"}}},
{"data": {"name": "a"}, "transform": [{"filter": "datum.s === '10 nm Fe₃O₄'"}], "mark": {"type": "point", "shape": "triangle-up", "filled": true, "size": 12, "color": "#2a45e0", "opacity": 1}, "encoding": {"x": {"field": "x", "type": "quantitative"}, "y": {"field": "y", "type": "quantitative"}}},
{"data": {"name": "a"}, "transform": [{"filter": "datum.s === '20 nm Fe₃O₄'"}], "mark": {"type": "point", "shape": "triangle-down", "filled": true, "size": 12, "color": "#cc44ee", "opacity": 1}, "encoding": {"x": {"field": "x", "type": "quantitative"}, "y": {"field": "y", "type": "quantitative"}}},
{"data": {"values": [{}]}, "mark": {"type": "text", "fontSize": 19, "align": "left", "baseline": "middle"},
 "encoding": {"x": {"datum": 0.03}, "y": {"datum": 26.9}, "text": {"value": "(a)"}}}
]
},
{
"width": 272, "height": 200,
"layer": [
{"data": {"name": "b"}, "mark": {"type": "line", "strokeWidth": 1.2},
 "encoding": {
  "x": {"field": "x", "type": "quantitative", "scale": {"domain": [0, 655], "nice": false, "zero": false}, "axis": {"title": "Z' (Ω)", "values": [0, 50, 100, 150, 200, 250, 300, 350, 400, 450, 500, 550, 600, 650], "labelExpr": "datum.value % 100 == 0 ? format(datum.value, 'd') : ''"}},
  "y": {"field": "y", "type": "quantitative", "scale": {"domain": [-10.5, 252.6], "nice": false, "zero": false}, "axis": {"title": "-Z'' (Ω)", "values": [0, 25, 50, 75, 100, 125, 150, 175, 200, 225, 250], "labelExpr": "datum.value % 50 == 0 ? format(datum.value, 'd') : ''", "titlePadding": 4}},
  "order": {"value": null},
  "color": {"field": "s", "type": "nominal", "scale": {"domain": ["FeCl₃", "5 nm Fe₃O₄", "10 nm Fe₃O₄", "20 nm Fe₃O₄"], "range": ["#000000", "#ee1111", "#2a45e0", "#cc44ee"]},
   "legend": {"title": null, "orient": "none", "legendX": 168, "legendY": 5, "symbolType": "M-1.6,0H1.6M-0.25,-0.25H0.25V0.25H-0.25Z", "symbolSize": 240, "symbolStrokeWidth": 1.3, "labelOffset": 8, "rowPadding": 6}}
 }},
{"data": {"name": "b"}, "transform": [{"filter": "datum.s === 'FeCl₃'"}], "mark": {"type": "point", "shape": "square", "filled": true, "size": 10, "color": "#000000", "opacity": 1}, "encoding": {"x": {"field": "x", "type": "quantitative"}, "y": {"field": "y", "type": "quantitative"}}},
{"data": {"name": "b"}, "transform": [{"filter": "datum.s === '5 nm Fe₃O₄'"}], "mark": {"type": "point", "shape": "circle", "filled": true, "size": 10, "color": "#ee1111", "opacity": 1}, "encoding": {"x": {"field": "x", "type": "quantitative"}, "y": {"field": "y", "type": "quantitative"}}},
{"data": {"name": "b"}, "transform": [{"filter": "datum.s === '10 nm Fe₃O₄'"}], "mark": {"type": "point", "shape": "triangle-up", "filled": true, "size": 12, "color": "#2a45e0", "opacity": 1}, "encoding": {"x": {"field": "x", "type": "quantitative"}, "y": {"field": "y", "type": "quantitative"}}},
{"data": {"name": "b"}, "transform": [{"filter": "datum.s === '20 nm Fe₃O₄'"}], "mark": {"type": "point", "shape": "triangle-down", "filled": true, "size": 12, "color": "#cc44ee", "opacity": 1}, "encoding": {"x": {"field": "x", "type": "quantitative"}, "y": {"field": "y", "type": "quantitative"}}},
{"data": {"values": [{}]}, "mark": {"type": "text", "fontSize": 19, "align": "left", "baseline": "middle"},
 "encoding": {"x": {"datum": 19}, "y": {"datum": 229}, "text": {"value": "(b)"}}}
]
}
],
"spacing": 47, "bounds": "flush",
"resolve": {"scale": {"color": "independent"}, "legend": {"color": "independent"}}
},
{
"hconcat": [
{
"width": 268, "height": 197,
"layer": [
{"data": {"name": "c"}, "mark": {"type": "line", "strokeWidth": 1.2},
 "encoding": {
  "x": {"field": "x", "type": "quantitative", "scale": {"domain": [-0.8, 1.2], "nice": false, "zero": false}, "axis": {"title": "Voltage (V)", "values": [-0.5, 0, 0.5, 1.0], "format": ".1f"}},
  "y": {"field": "y", "type": "quantitative", "scale": {"type": "log", "domain": [1e-9, 0.046], "nice": false}, "axis": {"title": "Leakage Current (mA)", "values": [1e-9, 1e-8, 1e-7, 1e-6, 1e-5, 1e-4, 1e-3, 0.01], "labelExpr": "datum.value > 0.005 ? '0.01' : '1E' + round(log(datum.value)/LN10)", "titlePadding": 1}},
  "color": {"field": "s", "type": "nominal", "scale": {"domain": ["FeCl₃", "5 nm Fe₃O₄", "10 nm Fe₃O₄", "20 nm Fe₃O₄"], "range": ["#000000", "#ee1111", "#2a45e0", "#cc44ee"]},
   "legend": {"title": null, "orient": "none", "legendX": 79, "legendY": 12, "symbolType": "M-1.6,0H1.6M-0.25,-0.25H0.25V0.25H-0.25Z", "symbolSize": 240, "symbolStrokeWidth": 1.3, "labelOffset": 8, "rowPadding": 6}}
 }},
{"data": {"name": "c"}, "transform": [{"filter": "datum.s === 'FeCl₃'"}], "mark": {"type": "point", "shape": "square", "filled": true, "size": 8, "color": "#000000", "opacity": 1}, "encoding": {"x": {"field": "x", "type": "quantitative"}, "y": {"field": "y", "type": "quantitative"}}},
{"data": {"name": "c"}, "transform": [{"filter": "datum.s === '5 nm Fe₃O₄'"}], "mark": {"type": "point", "shape": "circle", "filled": true, "size": 8, "color": "#ee1111", "opacity": 1}, "encoding": {"x": {"field": "x", "type": "quantitative"}, "y": {"field": "y", "type": "quantitative"}}},
{"data": {"name": "c"}, "transform": [{"filter": "datum.s === '10 nm Fe₃O₄'"}], "mark": {"type": "point", "shape": "triangle-up", "filled": true, "size": 10, "color": "#2a45e0", "opacity": 1}, "encoding": {"x": {"field": "x", "type": "quantitative"}, "y": {"field": "y", "type": "quantitative"}}},
{"data": {"name": "c"}, "transform": [{"filter": "datum.s === '20 nm Fe₃O₄'"}], "mark": {"type": "point", "shape": "triangle-down", "filled": true, "size": 10, "color": "#cc44ee", "opacity": 1}, "encoding": {"x": {"field": "x", "type": "quantitative"}, "y": {"field": "y", "type": "quantitative"}}},
{"data": {"values": [{}]}, "mark": {"type": "text", "fontSize": 19, "align": "left", "baseline": "middle"},
 "encoding": {"x": {"datum": -0.748}, "y": {"datum": 0.0089}, "text": {"value": "(c)"}}}
]
},
{
"width": 269, "height": 197,
"layer": [
{"data": {"name": "d"}, "mark": {"type": "line", "strokeWidth": 1.2},
 "encoding": {
  "x": {"field": "x", "type": "quantitative", "scale": {"domain": [-0.3, 1.5], "nice": false, "zero": false}, "axis": {"title": "Potential (V vs RHE)", "values": [-0.3, -0.15, 0, 0.15, 0.3, 0.45, 0.6, 0.75, 0.9, 1.05, 1.2, 1.35, 1.5], "labelExpr": "abs(round(datum.value*100)) % 30 == 0 ? format(datum.value, '.1f') : ''"}},
  "y": {"field": "y", "type": "quantitative", "scale": {"domain": [0, 100], "nice": false}, "axis": {"title": "Intensity (a.u.)", "labels": false, "ticks": false, "titlePadding": 7}},
  "color": {"field": "s", "type": "nominal", "scale": {"domain": ["FeCl₃", "10 nm Fe₃O₄"], "range": ["#000000", "#ee1111"]},
   "legend": {"title": null, "orient": "none", "legendX": 50, "legendY": 107, "symbolType": "M-1.6,0H1.6M-0.25,-0.25H0.25V0.25H-0.25Z", "symbolSize": 240, "symbolStrokeWidth": 1.3, "labelOffset": 8, "rowPadding": 7}}
 }},
{"data": {"name": "d"}, "transform": [{"filter": "datum.s === 'FeCl₃'"}], "mark": {"type": "point", "shape": "square", "filled": true, "size": 16, "color": "#000000", "opacity": 1}, "encoding": {"x": {"field": "x", "type": "quantitative"}, "y": {"field": "y", "type": "quantitative"}}},
{"data": {"name": "d"}, "transform": [{"filter": "datum.s === '10 nm Fe₃O₄'"}], "mark": {"type": "point", "shape": "circle", "filled": true, "size": 16, "color": "#ee1111", "opacity": 1}, "encoding": {"x": {"field": "x", "type": "quantitative"}, "y": {"field": "y", "type": "quantitative"}}},
{"data": {"values": [{}]}, "mark": {"type": "text", "fontSize": 19, "align": "left", "baseline": "middle"},
 "encoding": {"x": {"datum": -0.246}, "y": {"datum": 91.5}, "text": {"value": "(d)"}}}
]
}
],
"spacing": 42, "bounds": "flush",
"resolve": {"scale": {"color": "independent"}, "legend": {"color": "independent"}}
},
{
"hconcat": [
{
"width": 263, "height": 198,
"layer": [
{"data": {"name": "ef"}, "mark": {"type": "line", "strokeWidth": 1.3, "interpolate": "monotone"},
 "encoding": {
  "x": {"field": "x", "type": "quantitative", "scale": {"domain": [708, 718], "reverse": true, "nice": false, "zero": false}, "axis": {"title": "Binding Energy (eV)", "values": [708, 709, 710, 711, 712, 713, 714, 715, 716, 717, 718], "labelExpr": "datum.value % 2 == 0 ? format(datum.value, 'd') : ''"}},
  "y": {"field": "y", "type": "quantitative", "scale": {"domain": [0, 100], "nice": false}, "axis": {"title": "Intensity (a.u.)", "labels": false, "ticks": false, "titlePadding": 6}},
  "color": {"field": "s", "type": "nominal", "scale": {"domain": ["Fitted layer", "Fe³⁺", "Fe²⁺", "Fe-OOH", "Background"], "range": ["#f02030", "#2ec48c", "#2233d8", "#d060d8", "#4a60e0"]},
   "legend": {"title": null, "orient": "none", "legendX": 14, "legendY": 135, "direction": "horizontal", "columns": 2, "columnPadding": -4, "symbolType": "M-1.6,0H1.6", "symbolSize": 240, "symbolStrokeWidth": 1.5, "labelOffset": 8, "labelFontSize": 12, "rowPadding": 2}}
 }},
{"data": {"name": "es"}, "mark": {"type": "line", "strokeWidth": 1.1},
 "encoding": {
  "x": {"field": "x", "type": "quantitative"},
  "y": {"field": "y", "type": "quantitative"},
  "stroke": {"field": "s", "type": "nominal", "scale": {"domain": ["FeCl₃ sample"], "range": ["#222222"]},
   "legend": {"title": null, "orient": "none", "legendX": 14, "legendY": 116, "symbolType": "M-1.6,0H1.6", "symbolSize": 240, "symbolStrokeWidth": 1.3, "labelOffset": 8, "labelFontSize": 12}}
 }},
{"data": {"values": [{}]}, "mark": {"type": "text", "fontSize": 19, "align": "left", "baseline": "middle"},
 "encoding": {"x": {"datum": 717.8}, "y": {"datum": 90.7}, "text": {"value": "(e)"}}},
{"data": {"values": [{}]}, "mark": {"type": "text", "fontSize": 16, "fontWeight": "bold", "align": "right", "baseline": "middle"},
 "encoding": {"x": {"datum": 708.3}, "y": {"datum": 91.5}, "text": {"value": "Fe 2P₃/₂"}}},
{"data": {"values": [{}]}, "mark": {"type": "text", "fontSize": 12, "fontWeight": "bold", "align": "left", "baseline": "middle"},
 "encoding": {"x": {"datum": 717.48}, "y": {"datum": 58.6}, "text": {"value": "Satellite"}}}
],
"resolve": {"scale": {"color": "independent", "stroke": "independent"}, "legend": {"color": "independent", "stroke": "independent"}}
},
{
"width": 268, "height": 198,
"layer": [
{"data": {"name": "ff"}, "mark": {"type": "line", "strokeWidth": 1.3, "interpolate": "monotone"},
 "encoding": {
  "x": {"field": "x", "type": "quantitative", "scale": {"domain": [708, 718], "reverse": true, "nice": false, "zero": false}, "axis": {"title": "Binding Energy (eV)", "values": [708, 709, 710, 711, 712, 713, 714, 715, 716, 717, 718], "labelExpr": "datum.value % 2 == 0 ? format(datum.value, 'd') : ''"}},
  "y": {"field": "y", "type": "quantitative", "scale": {"domain": [0, 100], "nice": false}, "axis": {"title": "Intensity (a.u.)", "labels": false, "ticks": false, "titlePadding": 6}},
  "color": {"field": "s", "type": "nominal", "scale": {"domain": ["Fitted layer", "Fe³⁺", "Fe²⁺", "Background"], "range": ["#f02030", "#2ec48c", "#2233d8", "#4a60e0"]},
   "legend": {"title": null, "orient": "none", "legendX": 10, "legendY": 153, "direction": "horizontal", "columns": 2, "columnPadding": 4, "symbolType": "M-1.6,0H1.6", "symbolSize": 240, "symbolStrokeWidth": 1.5, "labelOffset": 8, "labelFontSize": 12, "rowPadding": 2}}
 }},
{"data": {"name": "fs"}, "mark": {"type": "line", "strokeWidth": 1.1},
 "encoding": {
  "x": {"field": "x", "type": "quantitative"},
  "y": {"field": "y", "type": "quantitative"},
  "stroke": {"field": "s", "type": "nominal", "scale": {"domain": ["10 nm F₃O₄ sample"], "range": ["#222222"]},
   "legend": {"title": null, "orient": "none", "legendX": 10, "legendY": 135, "symbolType": "M-1.6,0H1.6", "symbolSize": 240, "symbolStrokeWidth": 1.3, "labelOffset": 8, "labelFontSize": 12}}
 }},
{"data": {"values": [{}]}, "mark": {"type": "text", "fontSize": 19, "align": "left", "baseline": "middle"},
 "encoding": {"x": {"datum": 717.66}, "y": {"datum": 91.5}, "text": {"value": "(f)"}}},
{"data": {"values": [{}]}, "mark": {"type": "text", "fontSize": 16, "fontWeight": "bold", "align": "right", "baseline": "middle"},
 "encoding": {"x": {"datum": 708.28}, "y": {"datum": 91.5}, "text": {"value": "Fe 2P₃/₂"}}},
{"data": {"values": [{}]}, "mark": {"type": "text", "fontSize": 12, "fontWeight": "bold", "align": "left", "baseline": "middle"},
 "encoding": {"x": {"datum": 716.8}, "y": {"datum": 79.7}, "text": {"value": "Satellite"}}}
],
"resolve": {"scale": {"color": "independent", "stroke": "independent"}, "legend": {"color": "independent", "stroke": "independent"}}
}
],
"spacing": 47, "bounds": "flush",
"resolve": {"scale": {"color": "independent", "stroke": "independent"}, "legend": {"color": "independent", "stroke": "independent"}}
}
]
}
